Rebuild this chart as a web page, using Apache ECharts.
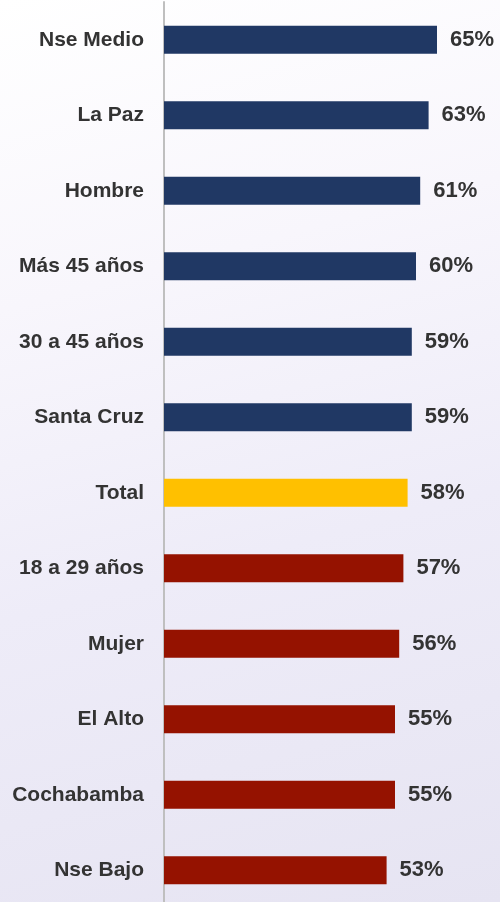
<!DOCTYPE html>
<html>
<head>
<meta charset="utf-8">
<script src="https://cdn.jsdelivr.net/npm/echarts@6/dist/echarts.min.js"></script>
<style>
html, body {
  margin: 0;
  padding: 0;
  overflow: hidden;
}
body {
  width: 500px;
  height: 902px;
  background: linear-gradient(165deg, #ffffff 0%, #f8f6fc 30%, #eeecf8 60%, #e6e4f2 100%);
}
#chart {
  width: 500px;
  height: 912px;
}
</style>
</head>
<body>
<div id="chart"></div>
<script>
// categorias de arriba hacia abajo
const categories = ['Nse Medio', 'La Paz', 'Hombre', 'Más 45 años', '30 a 45 años', 'Santa Cruz',
  'Total', '18 a 29 años', 'Mujer', 'El Alto', 'Cochabamba', 'Nse Bajo'];
const values = [65, 63, 61, 60, 59, 59, 58, 57, 56, 55, 55, 53];
// grupo: 'alto' = azul, 'total' = amarillo, 'bajo' = rojo
const groups = ['alto', 'alto', 'alto', 'alto', 'alto', 'alto', 'total', 'bajo', 'bajo', 'bajo', 'bajo', 'bajo'];

const colors = { alto: '#203864', total: '#ffc000', bajo: '#951200' };

let chart = echarts.init(document.getElementById('chart'));
let option = {
  animation: false,
  grid: {
    left: 164,
    right: 0,
    top: 2,
    height: 906
  },
  xAxis: {
    type: 'value',
    min: 0,
    max: 80,
    show: false
  },
  yAxis: {
    type: 'category',
    inverse: true,
    data: categories,
    axisLine: { show: true, lineStyle: { color: '#bfbfbf', width: 2 } },
    axisTick: { show: false },
    axisLabel: {
      margin: 20,
      color: '#333333',
      fontSize: 21,
      fontWeight: 'bold',
      fontFamily: 'Liberation Sans, Arial, sans-serif'
    }
  },
  series: [
    {
      type: 'bar',
      barWidth: 28,
      data: values.map((v, i) => ({
        value: v,
        itemStyle: { color: colors[groups[i]] }
      })),
      label: {
        show: true,
        position: 'right',
        distance: 13,
        formatter: '{c}%',
        color: '#333333',
        fontSize: 22,
        fontWeight: 'bold',
        fontFamily: 'Liberation Sans, Arial, sans-serif'
      }
    }
  ]
};
chart.setOption(option);
</script>
</body>
</html>
